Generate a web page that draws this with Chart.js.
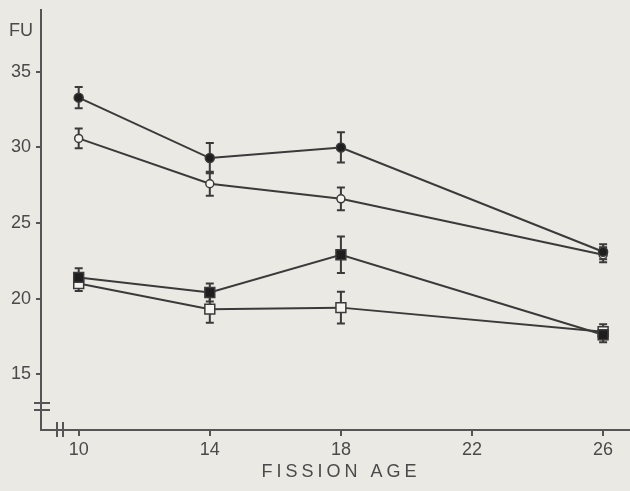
<!DOCTYPE html>
<html>
<head>
<meta charset="utf-8">
<script src="https://cdn.jsdelivr.net/npm/chart.js@4/dist/chart.umd.min.js"></script>
<style>
  html, body { margin: 0; padding: 0; background: #eae9e4; }
  #wrap { width: 630px; height: 491px; }
</style>
</head>
<body>
<div id="wrap"><canvas id="fu"></canvas></div>
<script>
// Edades de fisión (eje x) y marcas de los ejes
const ages = [10, 14, 18, 26];
const xTicks = [10, 14, 18, 22, 26];
const yTicks = [15, 20, 25, 30, 35];

// Valores medios (FU) y su error para cada serie
const filledCircle = [33.3, 29.3, 30.0, 23.1];
const filledCircleErr = [0.7, 1.0, 1.0, 0.5];
const openCircle = [30.6, 27.6, 26.6, 22.9];
const openCircleErr = [0.65, 0.8, 0.75, 0.5];
const filledSquare = [21.4, 20.4, 22.9, 17.6];
const filledSquareErr = [0.6, 0.6, 1.2, 0.5];
const openSquare = [21.0, 19.3, 19.4, 17.8];
const openSquareErr = [0.5, 0.9, 1.05, 0.5];

const ink = '#3a3a3a';
const paper = '#f4f3ef';
const textColor = '#4a4a4a';
const font = { family: '"Liberation Sans", Arial, sans-serif', size: 18 };

function puntos(valores) {
    return ages.map((x, i) => ({ x: x, y: valores[i] }));
}

function serie(valores, errores, estilo, relleno, radio) {
    return {
        data: puntos(valores),
        errores: errores,
        borderColor: ink,
        borderWidth: 2,
        pointStyle: estilo,
        pointRadius: radio,
        pointBackgroundColor: relleno,
        pointBorderColor: ink,
        pointBorderWidth: 1.5,
        tension: 0
    };
}

// Barras de error verticales con sus topes
const barrasError = {
    id: 'barrasError',
    beforeDatasetsDraw(chart) {
        const ctx = chart.ctx;
        const xs = chart.scales.x, ys = chart.scales.y;
        ctx.save();
        ctx.strokeStyle = ink;
        ctx.lineWidth = 2;
        chart.data.datasets.forEach(ds => {
            ds.data.forEach((p, i) => {
                const e = ds.errores[i];
                const px = xs.getPixelForValue(p.x);
                const top = ys.getPixelForValue(p.y + e);
                const bot = ys.getPixelForValue(p.y - e);
                ctx.beginPath();
                ctx.moveTo(px, top); ctx.lineTo(px, bot);
                ctx.moveTo(px - 4, top); ctx.lineTo(px + 4, top);
                ctx.moveTo(px - 4, bot); ctx.lineTo(px + 4, bot);
                ctx.stroke();
            });
        });
        ctx.restore();
    }
};

// Fondo, rótulos de los ejes y cortes de eje
const decoracion = {
    id: 'decoracion',
    beforeDraw(chart) {
        const ctx = chart.ctx;
        ctx.save();
        ctx.fillStyle = '#eae9e4';
        ctx.fillRect(0, 0, chart.width, chart.height);
        ctx.restore();
    },
    afterDraw(chart) {
        const ctx = chart.ctx;
        const a = chart.chartArea;
        ctx.save();
        ctx.fillStyle = textColor;
        ctx.font = '18px ' + font.family;
        ctx.textAlign = 'right';
        ctx.textBaseline = 'middle';
        ctx.fillText('FU', a.left - 8, 31);

        ctx.textAlign = 'center';
        ctx.letterSpacing = '4px';
        ctx.fillText('FISSION AGE', 341, 472);
        ctx.letterSpacing = '0px';

        // cortes del eje y y del eje x
        ctx.strokeStyle = '#555';
        ctx.lineWidth = 2;
        ctx.beginPath();
        ctx.moveTo(a.left - 7, 403); ctx.lineTo(a.left + 9, 403);
        ctx.moveTo(a.left - 7, 410); ctx.lineTo(a.left + 9, 410);
        ctx.moveTo(a.left + 16, a.bottom - 8); ctx.lineTo(a.left + 16, a.bottom + 7);
        ctx.moveTo(a.left + 22, a.bottom - 8); ctx.lineTo(a.left + 22, a.bottom + 7);
        ctx.stroke();
        ctx.restore();
    }
};

const chart = new Chart(document.getElementById('fu'), {
    type: 'line',
    data: {
        datasets: [
            serie(filledCircle, filledCircleErr, 'circle', '#1e1e1e', 4.5),
            serie(openCircle, openCircleErr, 'circle', paper, 4),
            serie(filledSquare, filledSquareErr, 'rect', '#1e1e1e', 7),
            serie(openSquare, openSquareErr, 'rect', paper, 7)
        ]
    },
    options: {
        responsive: true,
        maintainAspectRatio: false,
        animation: false,
        layout: { autoPadding: false, padding: { top: 10, right: 0, left: 0, bottom: 0 } },
        plugins: { legend: { display: false }, tooltip: { enabled: false } },
        scales: {
            x: {
                type: 'linear',
                min: 8.85,
                max: 26.82,
                afterBuildTicks: s => { s.ticks = xTicks.map(v => ({ value: v })); },
                afterFit: s => { s.height = 61; s.paddingLeft = 0; s.paddingRight = 0; },
                grid: { drawOnChartArea: false, drawTicks: true, tickLength: 6, color: '#555', lineWidth: 2 },
                border: { display: true, color: '#555', width: 2 },
                ticks: { color: textColor, font: font, padding: 3, maxRotation: 0 }
            },
            y: {
                min: 11.3,
                max: 39.1,
                afterBuildTicks: s => { s.ticks = yTicks.map(v => ({ value: v })); },
                afterFit: s => { s.width = 41; s.paddingTop = 0; s.paddingBottom = 0; },
                grid: { drawOnChartArea: false, drawTicks: true, tickLength: 5, color: '#555', lineWidth: 2 },
                border: { display: true, color: '#555', width: 2 },
                ticks: { color: textColor, font: font, padding: 5 }
            }
        }
    },
    plugins: [barrasError, decoracion]
});
</script>
</body>
</html>
